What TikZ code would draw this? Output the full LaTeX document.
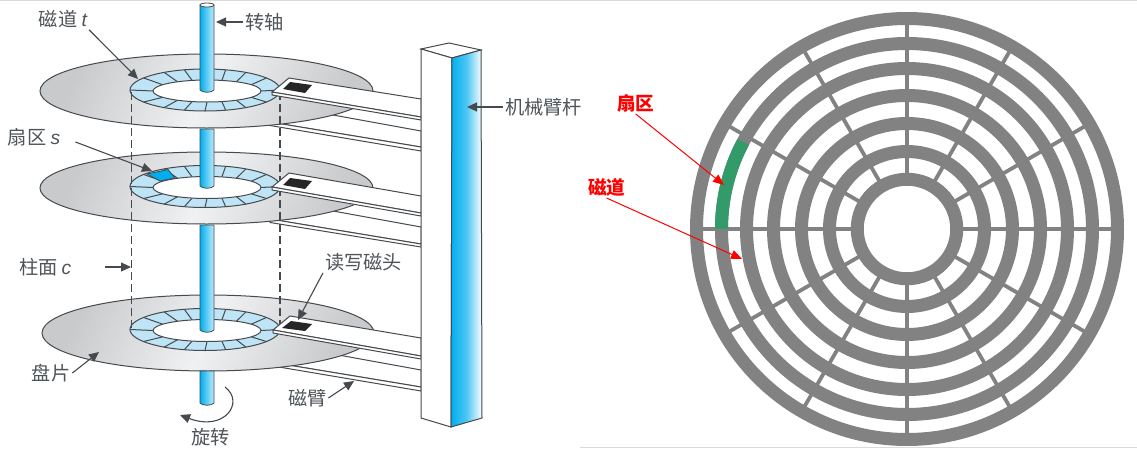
\documentclass[tikz,border=0pt]{standalone}
\usepackage{xcolor}
\usepackage{fontspec}
\setmainfont{Noto Sans CJK SC}
\newfontfamily\latinfont{Liberation Sans}
\usepackage{tikz}
\usetikzlibrary{arrows.meta}
\definecolor{labelink}{RGB}{78,84,90}
\definecolor{lineink}{RGB}{70,74,78}
\definecolor{platterdark}{RGB}{200,202,204}
\definecolor{platterlight}{RGB}{240,241,242}
\definecolor{trackblue}{RGB}{190,228,246}
\definecolor{sectorblue}{RGB}{0,174,239}
\definecolor{surfgray}{RGB}{130,130,130}
\definecolor{surfgreen}{RGB}{50,155,105}
\tikzset{
  label/.style={inner sep=1pt,outer sep=0pt,text=labelink,font=\fontsize{9.6}{11}\selectfont},
  redlabel/.style={inner sep=1pt,outer sep=0pt,text=red,font=\bfseries\fontsize{9.3}{11}\selectfont},
  pointer/.style={draw=lineink,line width=0.55pt,-{Triangle[length=5pt,width=4.5pt]}},
  redpointer/.style={draw=red,line width=0.5pt,-{Triangle[length=5.5pt,width=4.5pt]}},
  platter/.style={draw=lineink,line width=0.5pt,left color=platterdark,right color=platterdark,middle color=platterlight,shading angle=65},
  trackring/.style={draw=lineink,line width=0.5pt,fill=trackblue},
  trackhole/.style={draw=lineink,line width=0.5pt,fill=white},
  spindle/.style={draw=lineink,line width=0.4pt,left color=sectorblue,right color=sectorblue!25},
  armplate/.style={draw=lineink,line width=0.5pt,fill=white},
  cylinderline/.style={draw=lineink,line width=0.55pt,dash pattern=on 4pt off 2pt},
  surfring/.style={draw=surfgray,line width=6.5pt},
  surfspoke/.style={draw=surfgray,line width=1.9pt},
  scanline/.style={draw=black!14,line width=0.5pt},
}
\begin{document}
\begin{tikzpicture}[x=.5pt,y=-.5pt]
\path[use as bounding box,fill=white] (0,0) rectangle (1137,450);
\path[scanline] (0,0.5) -- (1137,0.5);
\path[scanline] (580,447.5) -- (1137,447.5);
% arms under the platters
\path[armplate] (300,109) -- (421,131) -- (421,147) -- (270,122) -- cycle;
\path[armplate] (270,122) -- (421,147) -- (421,151) -- (270,125.5) -- cycle;
\path[armplate] (300,205) -- (421,227) -- (421,244) -- (270,219) -- cycle;
\path[armplate] (270,219) -- (421,244) -- (421,247) -- (270,222.5) -- cycle;
\path[armplate] (300,348) -- (421,370) -- (421,387) -- (270,362) -- cycle;
\path[armplate] (270,362) -- (421,387) -- (421,391) -- (270,365.5) -- cycle;
% platters
\path[platter] (206.5,91) ellipse (166.5 and 37);
\path[platter] (206.5,188) ellipse (166.5 and 36);
\path[platter] (208,333) ellipse (166 and 38);
% tracks
\foreach \cy in {90,186.5,329.5}{
  \path[trackring] (205,\cy) ellipse (75 and 21);
  \foreach \a in {0,35,57,74,90,106,123,145,180,215,237,254,270,286,303,325}
    \draw[draw=lineink,line width=0.5pt] ({207+54*cos(\a)},{\cy+1+11*sin(\a)}) -- ({205+75*cos(\a)},{\cy+21*sin(\a)});
  \path[trackhole] (207,\cy+1) ellipse (54 and 11);
}
\path[fill=sectorblue,draw=lineink,line width=0.4pt] (147,174) -- (168,169.5) -- (175,178) -- (160,181) -- cycle;
% spindle
\path[spindle] (200,5) -- (200,90) .. controls (202,93) and (212,93) .. (214,90) -- (214,5) -- cycle;
\path[draw=lineink,line width=0.4pt,fill=white] (207,5) ellipse (7 and 2);
\path[spindle] (200,129) -- (200,186) .. controls (202,189) and (212,189) .. (214,186) -- (214,129) -- cycle;
\path[spindle] (200,225) -- (200,330) .. controls (202,333) and (212,333) .. (214,330) -- (214,225) -- cycle;
\path[spindle] (200,371) -- (200,403) .. controls (202,406) and (212,406) .. (214,403) -- (214,371) -- cycle;
% cylinder
\path[cylinderline] (131.5,92) -- (131.5,332);
\path[cylinderline] (280,92) -- (280,330);
% arms over the platters
\path[armplate] (272,92) -- (289,78) -- (421,99) -- (421,117) -- cycle;
\path[armplate] (272,92) -- (421,117) -- (421,120) -- (272,95) -- cycle;
\path[fill=black!85] (290,82) -- (312,85) -- (305,93) -- (283,89) -- cycle;
\path[armplate] (272,187) -- (289,173) -- (421,196) -- (421,213) -- cycle;
\path[armplate] (272,187) -- (421,213) -- (421,216) -- (272,190) -- cycle;
\path[fill=black!85] (290,178) -- (312,181) -- (305,189) -- (283,185) -- cycle;
\path[armplate] (273,330) -- (290,316) -- (421,338) -- (421,356) -- cycle;
\path[armplate] (273,330) -- (421,356) -- (421,359) -- (273,333) -- cycle;
\path[fill=black!85] (291,321) -- (312,324) -- (305,331) -- (282,328) -- cycle;
% actuator column
\path[draw=lineink,line width=0.5pt,fill=white] (421,49) -- (449,43) -- (481,50) -- (452,58) -- cycle;
\path[draw=lineink,line width=0.5pt,fill=white] (421,49) -- (452,58) -- (451,427) -- (421,418) -- cycle;
\path[draw=lineink,line width=0.5pt,left color=sectorblue,right color=white,middle color=sectorblue!70] (452,58) -- (481,50) -- (482,418) -- (451,427) -- cycle;
% labels on the left
\node[label,anchor=west] (trackLabel) at (37,19) {磁道 {\latinfont\itshape t}};
\node[label,anchor=west] (spindleLabel) at (243,22) {转轴};
\node[label,anchor=west] (sectorLabel) at (6,137) {扇区 {\latinfont\itshape s}};
\node[label,anchor=west] (cylinderLabel) at (17,267) {柱面 {\latinfont\itshape c}};
\node[label,anchor=west] (plateLabel) at (30,373) {盘片};
\node[label,anchor=west] (turnLabel) at (189,437) {旋转};
\node[label,anchor=west] (armLabel) at (286,398) {磁臂};
\node[label,anchor=west] (headLabel) at (323,262) {读写磁头};
\node[label,anchor=west] (columnLabel) at (503,107) {机械臂杆};
\coordinate (trackTip) at (138,79);
\coordinate (spindleTip) at (216,22);
\coordinate (sectorTip) at (152,171);
\coordinate (cylinderTip) at (131,267);
\coordinate (plateTip) at (99,352);
\coordinate (armTip) at (354,381);
\coordinate (headTip) at (298,320);
\coordinate (columnTip) at (467,107);
\coordinate (turnStart) at (225,387);
\coordinate (turnTip) at (180,415);
\draw[pointer] (trackLabel.south east) -- (trackTip);
\draw[pointer] (spindleLabel.west) -- (spindleTip);
\draw[pointer,shorten <=7pt] (sectorLabel.east) -- (sectorTip);
\draw[pointer,shorten <=16pt] (cylinderLabel.east) -- (cylinderTip);
\draw[pointer] (plateLabel.east) -- (plateTip);
\draw[pointer] (armLabel.east) -- (armTip);
\draw[pointer] (headLabel.south west) -- (headTip);
\draw[pointer] (columnLabel.west) -- (columnTip);
\draw[pointer] (turnStart) .. controls (245,402) and (225,432) .. (turnTip);
% surface view
\begin{scope}[shift={(907,229)}]
\foreach \a in {0,30,...,150}
  \path[surfspoke] (\a:50) -- (\a:210) (\a+180:50) -- (\a+180:210);
\path[surfring] (0,0) circle (49.75);
\path[surfring] (0,0) circle (77.5);
\path[surfring] (0,0) circle (105.5);
\path[surfring] (0,0) circle (133.5);
\path[surfring] (0,0) circle (160.5);
\path[surfring] (0,0) circle (185.5);
\path[surfring] (0,0) circle (210.5);
\draw[draw=surfgreen,line width=6.5pt] (180:185.5) arc[start angle=180,end angle=208,radius=185.5];
\end{scope}
\node[redlabel,anchor=west] (redSectorLabel) at (615,103) {扇区};
\node[redlabel,anchor=west] (redTrackLabel) at (586,187) {磁道};
\coordinate (redSectorTip) at (724,185);
\coordinate (redTrackTip) at (742,259);
\draw[redpointer] (redSectorLabel.south) -- (redSectorTip);
\draw[redpointer] (redTrackLabel.south) -- (redTrackTip);
\end{tikzpicture}
\end{document}
